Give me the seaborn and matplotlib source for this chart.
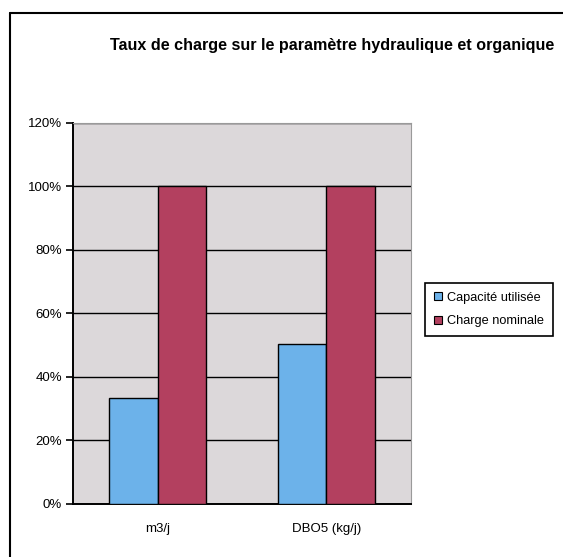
import matplotlib
matplotlib.use("Agg")
import matplotlib.pyplot as plt
from matplotlib.ticker import PercentFormatter, FixedLocator
from matplotlib.patches import Rectangle
import seaborn as sns
import pandas as pd

# data
categories = ["m3/j", "DBO5 (kg/j)"]
series = ["Capacité utilisée", "Charge nominale"]
capacite_utilisee = [0.335, 0.505]
charge_nominale = [1.0, 1.0]

df = pd.DataFrame({
    "categorie": categories * 2,
    "serie": [series[0]] * 2 + [series[1]] * 2,
    "taux": capacite_utilisee + charge_nominale,
})

sns.set_style("white")
plt.rcParams["font.family"] = ["Liberation Sans", "DejaVu Sans"]
plt.rcParams["text.color"] = "black"
plt.rcParams["xtick.color"] = "black"
plt.rcParams["ytick.color"] = "black"

fig = plt.figure(figsize=(5.63, 5.57), dpi=100)
ax = fig.add_axes([0.1297, 0.0952, 0.6003, 0.684])

palette = {series[0]: "#6cb2ea", series[1]: "#b3405f"}
sns.barplot(data=df, x="categorie", y="taux", hue="serie", palette=palette,
            width=0.57, edgecolor="black", linewidth=1.0, saturation=1,
            ax=ax, zorder=3)

ax.set_facecolor("#dcd8da")
ax.set_ylim(0, 1.2)
ax.set_xlim(-0.5, 1.5)
ax.yaxis.set_major_locator(FixedLocator([0, 0.2, 0.4, 0.6, 0.8, 1.0, 1.2]))
ax.yaxis.set_major_formatter(PercentFormatter(1.0, decimals=0))
ax.grid(axis="y", color="black", linewidth=1.0, zorder=0)
ax.set_axisbelow(True)
ax.set_xlabel("")
ax.set_ylabel("")

ax.xaxis.set_minor_locator(FixedLocator([-0.5, 0.5, 1.5]))
ax.tick_params(axis="x", which="major", length=0, pad=14, labelsize=9.5)
ax.tick_params(axis="x", which="minor", length=5, width=1.2, color="black", direction="out")
ax.tick_params(axis="y", length=5, width=1.2, color="black", direction="out", pad=3, labelsize=9.5)
ax.tick_params(left=True, bottom=True)

for side in ["top", "right"]:
    ax.spines[side].set_color("#9a9a9a")
    ax.spines[side].set_linewidth(0.8)
for side in ["left", "bottom"]:
    ax.spines[side].set_color("black")
    ax.spines[side].set_linewidth(1.4)

ax.legend_.remove()
handles = [Rectangle((0, 0), 1, 1, facecolor=palette[s], edgecolor="black", linewidth=0.8) for s in series]
leg = fig.legend(handles, series, loc="upper left", bbox_to_anchor=(0.755, 0.492),
                 borderaxespad=0, frameon=True, fancybox=False, edgecolor="black", framealpha=1,
                 fontsize=9.2, handlelength=0.6, handleheight=0.6, handletextpad=0.4,
                 borderpad=0.7, labelspacing=0.9)
leg.get_frame().set_linewidth(1.2)

fig.text(0.59, 0.918, "Taux de charge sur le paramètre hydraulique et organique",
         ha="center", va="center", fontsize=11.6, fontweight="bold")

# frame of the chart area
fig.add_artist(plt.Line2D([0.018, 0.018], [0.0, 0.977], color="black", linewidth=1.5))
fig.add_artist(plt.Line2D([0.018, 1.0], [0.977, 0.977], color="black", linewidth=1.5))

fig.savefig("out.png", dpi=100)
